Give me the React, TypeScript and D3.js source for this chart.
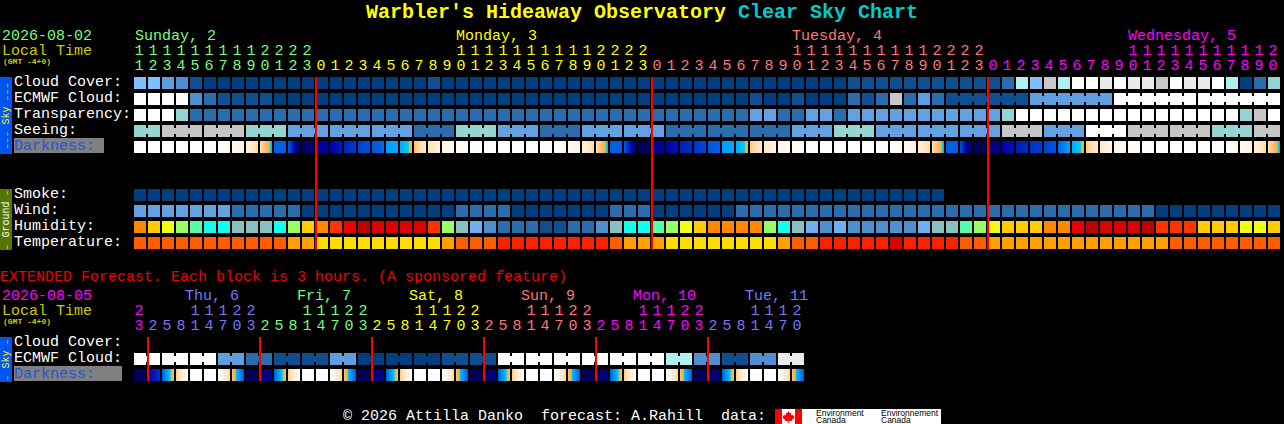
// ─ Imports ──────────────────────────────────────────────────────────────────────────────────────
import * as d3 from 'd3';
import { ReactElement } from 'react';

// ─ Data ─────────────────────────────────────────────────────────────────────────────────────────
// Hourly columns, one list per calendar day
const sundayHours = d3.range(11, 24);
const mondayHours = d3.range(0, 24);
const tuesdayHours = d3.range(0, 24);
const wednesdayHours = d3.range(0, 21);

// 3 hourly columns of the extended forecast
const wedExtHours = [23];
const thuExtHours = [2, 5, 8, 11, 14, 17, 20, 23];
const friExtHours = [2, 5, 8, 11, 14, 17, 20, 23];
const satExtHours = [2, 5, 8, 11, 14, 17, 20, 23];
const sunExtHours = [2, 5, 8, 11, 14, 17, 20, 23];
const monExtHours = [2, 5, 8, 11, 14, 17, 20, 23];
const tueExtHours = [2, 5, 8, 11, 14, 17, 20];

// Cloud cover in percent
const cloudCover = [
  50, 50, 40, 30, 10, 0, 0, 0, 0, 0,
  0, 0, 0, 0, 0, 0, 0, 0, 0, 0,
  0, 10, 0, 0, 0, 0, 0, 0, 0, 0,
  0, 0, 0, 0, 0, 0, 0, 0, 0, 0,
  0, 0, 0, 0, 0, 0, 0, 0, 0, 0,
  0, 10, 10, 10, 10, 10, 10, 10, 10, 10,
  10, 10, 20, 60, 50, 80, 60, 100, 100, 90,
  100, 90, 90, 80, 100, 90, 90, 100, 60, 0,
  20, 70,
];

const ecmwfCloud = [
  100, 100, 100, 100, 30, 20, 10, 10, 10, 10,
  0, 0, 0, 0, 0, 0, 0, 0, 0, 0,
  0, 0, 0, 0, 0, 0, 0, 0, 0, 0,
  0, 0, 0, 0, 0, 0, 0, 0, 0, 0,
  0, 0, 0, 0, 10, 0, 0, 10, 0, 0,
  0, 20, 10, 20, 80, 20, 40, 20, 10, 10,
  10, 10, 10, 10, 40, 40, 40, 40, 40, 40,
  100, 100, 100, 100, 100, 100, 100, 100, 100, 100,
  100, 100,
];

// Sky quality classes, 0 is best and 5 is worst
const transparency = [
  5, 5, 5, 3, 1, 1, 1, 1, 1, 1,
  1, 1, 1, 1, 1, 1, 1, 1, 1, 1,
  1, 1, 1, 1, 1, 1, 1, 1, 1, 1,
  1, 1, 1, 1, 1, 1, 1, 1, 1, 1,
  1, 1, 1, 1, 2, 2, 1, 1, 2, 2,
  1, 2, 2, 2, 2, 2, 2, 2, 2, 2,
  2, 2, 3, 5, 5, 5, 5, 5, 5, 5,
  5, 5, 5, 5, 5, 5, 5, 5, 5, 3,
  4, 5,
];

const seeing = [
  3, 3, 4, 4, 4, 4, 4, 4, 3, 3,
  3, 2, 2, 2, 2, 2, 2, 2, 2, 2,
  1, 1, 1, 3, 3, 3, 2, 2, 2, 1,
  1, 1, 2, 2, 2, 2, 2, 2, 1, 1,
  1, 1, 1, 1, 1, 1, 1, 2, 2, 2,
  3, 3, 3, 2, 2, 2, 2, 2, 2, 2,
  2, 2, 4, 4, 4, 2, 2, 2, 5, 5,
  5, 4, 4, 4, 4, 4, 4, 3, 3, 3,
  4, 4,
];

// Darkness level at the left and the right edge of each hour, 0 is daylight and 8 is full dark
const darknessStart = [
  0, 0, 0, 0, 0, 0, 0.2, 0.6, 1.1, 2,
  4, 4, 7.8, 6.6, 6, 5.3, 4.7, 4.2, 3.4, 3.3,
  2.6, 1.9, 1, 0.5, 0.2, 0, 0, 0, 0, 0,
  0.2, 0.6, 1.1, 2, 4, 4.1, 7.8, 6.6, 6, 5.4,
  4.9, 4.2, 3.4, 3.3, 2.4, 1.6, 0.9, 0.4, 0.1, 0,
  0, 0, 0, 0, 0.2, 0.6, 1.2, 2, 4, 4.2,
  7.9, 7.2, 6, 5.5, 5, 4.6, 4, 3.3, 2.4, 1.5,
  0.8, 0.4, 0.1, 0, 0, 0, 0, 0, 0.2, 0.6,
  1.2, 2,
];

const darknessEnd = [
  0, 0, 0, 0, 0, 0.15, 0.6, 1.1, 2, 3.2,
  4, 7.6, 7, 6, 5.4, 4.8, 4.3, 3.9, 3.3, 2.9,
  1.5, 1.1, 0.6, 0.2, 0.05, 0, 0, 0, 0, 0.2,
  0.6, 1.1, 2, 3.2, 4, 7, 7.6, 6.2, 5.6, 5,
  4.5, 4, 3.3, 2.9, 1.5, 1, 0.5, 0.2, 0, 0,
  0, 0, 0, 0.2, 0.6, 1.2, 2, 3.2, 4, 7.8,
  7.8, 6.8, 5.6, 5.1, 4.7, 4.3, 3.3, 2.9, 1.5, 0.9,
  0.5, 0.2, 0, 0, 0, 0, 0, 0.2, 0.6, 1.2,
  2, 3.2,
];

const smoke = [
  0, 0, 0, 0, 0, 0, 0, 0, 0, 0,
  0, 0, 0, 0, 0, 0, 0, 0, 0, 0,
  0, 0, 0, 0, 0, 0, 0, 0, 0, 0,
  0, 0, 0, 0, 0, 0, 0, 0, 0, 0,
  0, 0, 0, 0, 0, 0, 0, 0, 0, 0,
  0, 0, 0, 0, 0, 0, 0, 0,
];

const wind = [
  2, 2, 2, 2, 2, 2, 2, 1, 1, 1,
  1, 1, 0, 0, 0, 0, 0, 0, 0, 0,
  0, 0, 0, 1, 1, 1, 1, 0, 0, 0,
  0, 0, 0, 0, 1, 1, 1, 0, 0, 0,
  0, 0, 0, 1, 1, 1, 1, 1, 1, 1,
  1, 1, 1, 1, 1, 1, 1, 1, 1, 1,
  1, 1, 1, 1, 1, 1, 1, 1, 1, 1,
  1, 1, 1, 0, 0, 0, 0, 0, 0, 0,
  0, 0,
];

// Relative humidity, lower edge of the 5% bin
const humidity = [
  75, 70, 65, 60, 55, 50, 50, 45, 45, 45,
  50, 60, 70, 75, 80, 85, 95, 90, 90, 90,
  90, 80, 60, 45, 40, 35, 30, 30, 30, 25,
  25, 30, 30, 35, 45, 50, 50, 55, 60, 65,
  70, 75, 75, 75, 75, 60, 50, 45, 40, 35,
  40, 35, 35, 35, 35, 35, 40, 45, 45, 55,
  60, 65, 70, 70, 70, 75, 75, 85, 95, 90,
  90, 90, 95, 80, 80, 80, 70, 70, 70, 65,
  65, 70,
];

// Temperature in Celsius, lower edge of the bin
const temperature = [
  27, 27, 27, 27, 27, 27, 27, 27, 27, 27,
  27, 24, 24, 21, 21, 21, 21, 21, 21, 21,
  21, 21, 24, 27, 27, 27, 30, 30, 30, 30,
  30, 30, 30, 30, 27, 24, 24, 24, 21, 21,
  21, 21, 21, 21, 21, 21, 24, 27, 27, 30,
  30, 30, 30, 30, 33, 30, 30, 30, 30, 27,
  27, 24, 24, 24, 24, 24, 24, 24, 24, 24,
  24, 24, 24, 24, 27, 27, 27, 27, 27, 27,
  27, 27,
];

// Extended forecast
const extEcmwfCloud = [
  100, 100, 100, 100, 100, 100, 40, 40, 20, 20,
  10, 10, 10, 10, 40, 40, 0, 0, 0, 0,
  0, 0, 10, 10, 10, 10, 100, 100, 100, 100,
  100, 100, 100, 100, 100, 100, 100, 100, 60, 60,
  30, 30, 10, 10, 30, 30, 90, 90,
];

const extDarknessStart = [
  8, 6, 4, 2.4, 0, 0, 0.1, 2.55,
  8, 7, 4, 2.4, 0, 0, 0.1, 2.55,
  8, 7.2, 4, 2.4, 0, 0, 0.1, 2.55,
  8, 7.6, 4, 2.4, 0, 0, 0.1, 2.55,
  8, 7.6, 4, 2.4, 0, 0, 0.1, 2.55,
  8, 7.6, 4, 2.4, 0, 0, 0.1, 2.55,
];

const extDarknessEnd = [
  7.5, 5, 2.6, 0.2, 0, 0, 2.2, 4.1,
  7.8, 6.6, 2.6, 0.2, 0, 0, 2.2, 4.1,
  7.8, 6.8, 2.6, 0.2, 0, 0, 2.2, 4.1,
  7.8, 7, 2.6, 0.2, 0, 0, 2.2, 4.1,
  7.8, 7, 2.6, 0.2, 0, 0, 2.2, 4.1,
  7.8, 7, 2.6, 0.2, 0, 0, 2.2, 4.1,
];

// ─ Colours ──────────────────────────────────────────────────────────────────────────────────────
const GREEN = '#77FF77';
const YELLOW = '#FFFF00';
const SALMON = '#FF7777';
const MAGENTA = '#FF00FF';
const PERIWINKLE = '#7777FF';
const OLIVE_TEXT = '#CCCC00';
const DARKNESS_TEXT = '#1E55DD';

const cloudColor = d3.scaleOrdinal<number, string>()
  .domain([0, 10, 20, 30, 40, 50, 60, 70, 80, 90, 100])
  .range(['#003F7F', '#0F4F8F', '#2B6CAD', '#4F8FCF', '#5F9FDF', '#7FBFFF', '#B0F0F0', '#96D4D4', '#C8C8C8', '#EAEAEA', '#FFFFFF']);

const skyColor = d3.scaleOrdinal<number, string>()
  .domain([0, 1, 2, 3, 4, 5])
  .range(['#003F7F', '#2B6CAD', '#63A1E0', '#96D4D4', '#C6C6C6', '#FFFFFF']);

const humidityColor = d3.scaleThreshold<number, string>()
  .domain([30, 35, 40, 45, 50, 55, 60, 65, 70, 75, 80, 85, 90, 95])
  .range(['#0F4F8F', '#2B6CAD', '#4F8FCF', '#6FB0F5', '#88BFBF', '#11FFEE', '#55FFAA', '#99FF66', '#EEFF11', '#FFCC00', '#FF8800', '#FF3300', '#EE0000', '#DD0000', '#BB0000']);

const temperatureColor = d3.scaleThreshold<number, string>()
  .domain([24, 27, 30, 33])
  .range(['#FFDD00', '#FFA000', '#FF5C00', '#FF2000', '#DD0000']);

const darknessColor = d3.scaleLinear<string>()
  .domain([0, 1, 2, 3, 3.01, 3.3, 4, 5, 6, 7, 8])
  .range(['#FFFFFF', '#FFF4E4', '#FFDFAF', '#FFA830', '#00D0F0', '#00A8FF', '#0060E0', '#0030C8', '#0000A8', '#000080', '#000050'])
  .clamp(true);

// ─ Layout ───────────────────────────────────────────────────────────────────────────────────────
const WIDTH = 1284;
const HEIGHT = 424;
const FONT = "'Liberation Mono', monospace";
const CELL = 12;
const STEP = 14;
const GRID_LEFT = 134;

const mainDays = [
  { hours: sundayHours, color: GREEN },
  { hours: mondayHours, color: YELLOW },
  { hours: tuesdayHours, color: SALMON },
  { hours: wednesdayHours, color: MAGENTA },
];

const extDays = [
  { hours: wedExtHours, color: MAGENTA },
  { hours: thuExtHours, color: PERIWINKLE },
  { hours: friExtHours, color: GREEN },
  { hours: satExtHours, color: YELLOW },
  { hours: sunExtHours, color: SALMON },
  { hours: monExtHours, color: MAGENTA },
  { hours: tueExtHours, color: PERIWINKLE },
];

const flatten = (days: typeof mainDays) =>
  days.flatMap(day => day.hours.map(hour => ({ hour, color: day.color })));

const mainColumns = flatten(mainDays);
const extColumns = flatten(extDays);

const columnScale = (count: number) => d3.scaleBand<number>()
  .domain(d3.range(count))
  .range([GRID_LEFT, GRID_LEFT + count * STEP - (STEP - CELL)])
  .paddingInner((STEP - CELL) / STEP)
  .round(false);

const mainBand = columnScale(mainColumns.length);
const extBand = columnScale(extColumns.length);

// Whole pixel column position, the band scale leaves floating point dust
const mainX = (col: number) => Math.round(mainBand(col) as number);
const extX = (col: number) => Math.round(extBand(col) as number);

const rowScale = (names: string[], top: number) => d3.scaleBand<string>()
  .domain(names)
  .range([top, top + names.length * 16 - 4])
  .paddingInner(4 / 16);

const skyY = rowScale(['Cloud Cover:', 'ECMWF Cloud:', 'Transparency:', 'Seeing:', 'Darkness:'], 77);
const groundY = rowScale(['Smoke:', 'Wind:', 'Humidity:', 'Temperature:'], 189);
const extY = rowScale(['Cloud Cover:', 'ECMWF Cloud:', 'Darkness:'], 337);

// ─ Small drawing helpers ────────────────────────────────────────────────────────────────────────
const Label = ({ x, y, fill, size = 15, bold = false, children }: any): ReactElement => (
  <text x={x} y={y} fill={fill} fontFamily={FONT} fontSize={size} fontWeight={bold ? 'bold' : 'normal'} style={{ whiteSpace: 'pre' }}>
    {children}
  </text>
);

// One row of blocks, neighbours of the same forecast block get a narrow bridge
const BlockRow = ({ values, x, y, color, joined }: any): ReactElement => (
  <g shapeRendering="crispEdges">
    {values.map((value: number, col: number) => (
      <g key={col}>
        <rect x={x(col)} y={Math.round(y)} width={CELL} height={CELL} fill={color(value)} />
        {joined && col + 1 < values.length && joined(col) === joined(col + 1) && joined(col) !== null && (
          <rect x={x(col) + CELL} y={Math.round(y) + 3} width={STEP - CELL} height={6} fill={color(value)} />
        )}
      </g>
    ))}
  </g>
);

// Darkness blocks shade from their left to their right edge, pixel by pixel
const DarknessRow = ({ starts, ends, x, y }: any): ReactElement => {
  const pixels = d3.range(CELL);
  return (
    <g shapeRendering="crispEdges">
      {starts.map((start: number, col: number) => {
        const level = d3.scaleLinear().domain([0, CELL]).range([start, ends[col]]);
        return pixels.map(px => (
          <rect key={`${col}-${px}`} x={x(col) + px} y={Math.round(y)} width={1} height={CELL} fill={darknessColor(level(px + 0.5))} />
        ));
      })}
    </g>
  );
};

const HourDigits = ({ columns, x, tensY, onesY }: any): ReactElement => (
  <g fontFamily={FONT} fontSize={15} textAnchor="middle">
    {columns.map((column: any, col: number) => (
      <g key={col} fill={column.color}>
        {column.hour >= 10 && <text x={x(col) + 5} y={tensY}>{Math.floor(column.hour / 10)}</text>}
        <text x={x(col) + 5} y={onesY}>{column.hour % 10}</text>
      </g>
    ))}
  </g>
);

const RowLabels = ({ scale }: any): ReactElement => (
  <g>
    {scale.domain().filter((name: string) => name !== 'Darkness:').map((name: string) => (
      <Label key={name} x={14} y={scale(name) + 9} fill="#FFFFFF">{name}</Label>
    ))}
  </g>
);

// Side bar text, the dashes are set in a smaller size so that they read as long strokes
const SideBar = ({ top, height, fill, textFill, dashes, title }: any): ReactElement => (
  <g>
    <rect x={0} y={top} width={12} height={height} fill={fill} />
    <text
      transform={`translate(9,${top + height / 2}) rotate(-90)`}
      fill={textFill}
      fontFamily={FONT}
      fontSize={10}
      textAnchor="middle"
      style={{ whiteSpace: 'pre' }}
    >
      <tspan fontSize={8} letterSpacing={1.4}>{dashes}</tspan>
      {` ${title} `}
      <tspan fontSize={8} letterSpacing={1.4}>{dashes}</tspan>
    </text>
  </g>
);

// ─ Component ────────────────────────────────────────────────────────────────────────────────────
/**
 * Clear sky chart: hourly blocks for the sky and ground rows, then a 3 hourly extended forecast.
 */
const App = (): ReactElement => {
  const dayStarts = (columns: { hour: number }[], hour: number) =>
    d3.range(columns.length).filter(col => columns[col].hour === hour);

  return (
    <svg width={WIDTH} height={HEIGHT} style={{ position: 'absolute', left: 0, top: 0, display: 'block', background: '#000' }}>
      {/* Title */}
      <Label x={366} y={18} fill={YELLOW} size={20} bold>Warbler's Hideaway Observatory</Label>
      <Label x={738} y={18} fill="#00CCCC" size={20} bold>Clear Sky Chart</Label>

      {/* Date and day headers */}
      <Label x={2} y={40} fill={GREEN}>2026-08-02</Label>
      <Label x={2} y={55} fill={OLIVE_TEXT}>Local Time</Label>
      <Label x={3} y={64} fill={OLIVE_TEXT} size={8} bold>(GMT -4+0)</Label>
      <Label x={135} y={40} fill={GREEN}>Sunday, 2</Label>
      <Label x={456} y={40} fill={YELLOW}>Monday, 3</Label>
      <Label x={792} y={40} fill={SALMON}>Tuesday, 4</Label>
      <Label x={1128} y={40} fill={MAGENTA}>Wednesday, 5</Label>
      <HourDigits columns={mainColumns} x={mainX} tensY={55} onesY={70} />

      {/* Sky rows */}
      <SideBar top={77} height={77} fill="#0055EE" textFill={YELLOW} dashes="–––" title="Sky" />
      <RowLabels scale={skyY} />
      <rect x={14} y={138} width={90} height={15} fill="#808080" />
      <Label x={14} y={150} fill={DARKNESS_TEXT}>Darkness:</Label>
      <BlockRow values={cloudCover} x={mainX} y={skyY('Cloud Cover:')} color={cloudColor} />
      <BlockRow
        values={ecmwfCloud}
        x={mainX}
        y={skyY('ECMWF Cloud:')}
        color={cloudColor}
        joined={(col: number) => (col >= 58 ? Math.floor((col - 58) / 6) : null)}
      />
      <BlockRow values={transparency} x={mainX} y={skyY('Transparency:')} color={skyColor} />
      <BlockRow
        values={seeing}
        x={mainX}
        y={skyY('Seeing:')}
        color={skyColor}
        joined={(col: number) => Math.floor((col + 1) / 3)}
      />
      <DarknessRow starts={darknessStart} ends={darknessEnd} x={mainX} y={skyY('Darkness:')} />

      {/* Ground rows */}
      <SideBar top={189} height={61} fill="#557700" textFill="#FFFFFF" dashes="–" title="Ground" />
      <RowLabels scale={groundY} />
      <BlockRow values={smoke} x={mainX} y={groundY('Smoke:')} color={skyColor} />
      <BlockRow values={wind} x={mainX} y={groundY('Wind:')} color={skyColor} />
      <BlockRow values={humidity} x={mainX} y={groundY('Humidity:')} color={humidityColor} />
      <BlockRow values={temperature} x={mainX} y={groundY('Temperature:')} color={temperatureColor} />

      {/* Midnight markers */}
      {dayStarts(mainColumns, 0).map(col => (
        <rect key={col} x={mainX(col) - 1} y={77} width={2} height={173} fill="#FF0000" shapeRendering="crispEdges" />
      ))}

      {/* Extended forecast */}
      <Label x={0} y={281} fill="#EE0000">EXTENDED Forecast. Each block is 3 hours. (A sponsored feature)</Label>
      <Label x={2} y={300} fill={MAGENTA}>2026-08-05</Label>
      <Label x={2} y={315} fill={OLIVE_TEXT}>Local Time</Label>
      <Label x={3} y={324} fill={OLIVE_TEXT} size={8} bold>(GMT -4+0)</Label>
      <Label x={185} y={300} fill={PERIWINKLE}>Thu, 6</Label>
      <Label x={297} y={300} fill={GREEN}>Fri, 7</Label>
      <Label x={409} y={300} fill={YELLOW}>Sat, 8</Label>
      <Label x={521} y={300} fill={SALMON}>Sun, 9</Label>
      <Label x={633} y={300} fill={MAGENTA}>Mon, 10</Label>
      <Label x={745} y={300} fill={PERIWINKLE}>Tue, 11</Label>
      <HourDigits columns={extColumns} x={extX} tensY={315} onesY={330} />

      <SideBar top={337} height={45} fill="#0055EE" textFill={YELLOW} dashes="–" title="Sky" />
      <RowLabels scale={extY} />
      <rect x={14} y={366} width={108} height={15} fill="#808080" />
      <Label x={14} y={378} fill={DARKNESS_TEXT}>Darkness:</Label>
      <BlockRow
        values={extEcmwfCloud}
        x={extX}
        y={extY('ECMWF Cloud:')}
        color={cloudColor}
        joined={(col: number) => Math.floor(col / 2)}
      />
      <DarknessRow starts={extDarknessStart} ends={extDarknessEnd} x={extX} y={extY('Darkness:')} />
      {dayStarts(extColumns, 2).map(col => (
        <rect key={col} x={extX(col) - 1} y={337} width={2} height={44} fill="#FF0000" shapeRendering="crispEdges" />
      ))}

      {/* Footer */}
      <Label x={343} y={420} fill="#FFFFFF">© 2026 Attilla Danko  forecast: A.Rahill  data:</Label>
      <g>
        <rect x={775} y={409} width={166} height={15} fill="#FFFFFF" />
        <rect x={775} y={409} width={7} height={15} fill="#FF0000" />
        <rect x={795} y={409} width={7} height={15} fill="#FF0000" />
        <path
          d="M788.5 411 l1.3 2.2 1.5-.6-.5 3 1.6-1 .5 1.2 1.6-.3-.6 1.8.7.5-2.8 2.1.3 1.1-3-.3v2h-1.2v-2l-3 .3.3-1.1-2.8-2.1.7-.5-.6-1.8 1.6.3.5-1.2 1.6 1-.5-3 1.5.6z"
          fill="#FF0000"
        />
        <g fill="#000000" fontFamily="'Liberation Sans', sans-serif" fontSize={8.5}>
          <text x={816} y={416}>Environment</text>
          <text x={816} y={423}>Canada</text>
          <text x={881} y={416}>Environnement</text>
          <text x={881} y={423}>Canada</text>
        </g>
      </g>
    </svg>
  );
};

// ─ Exports ──────────────────────────────────────────────────────────────────────────────────────
export default App;
